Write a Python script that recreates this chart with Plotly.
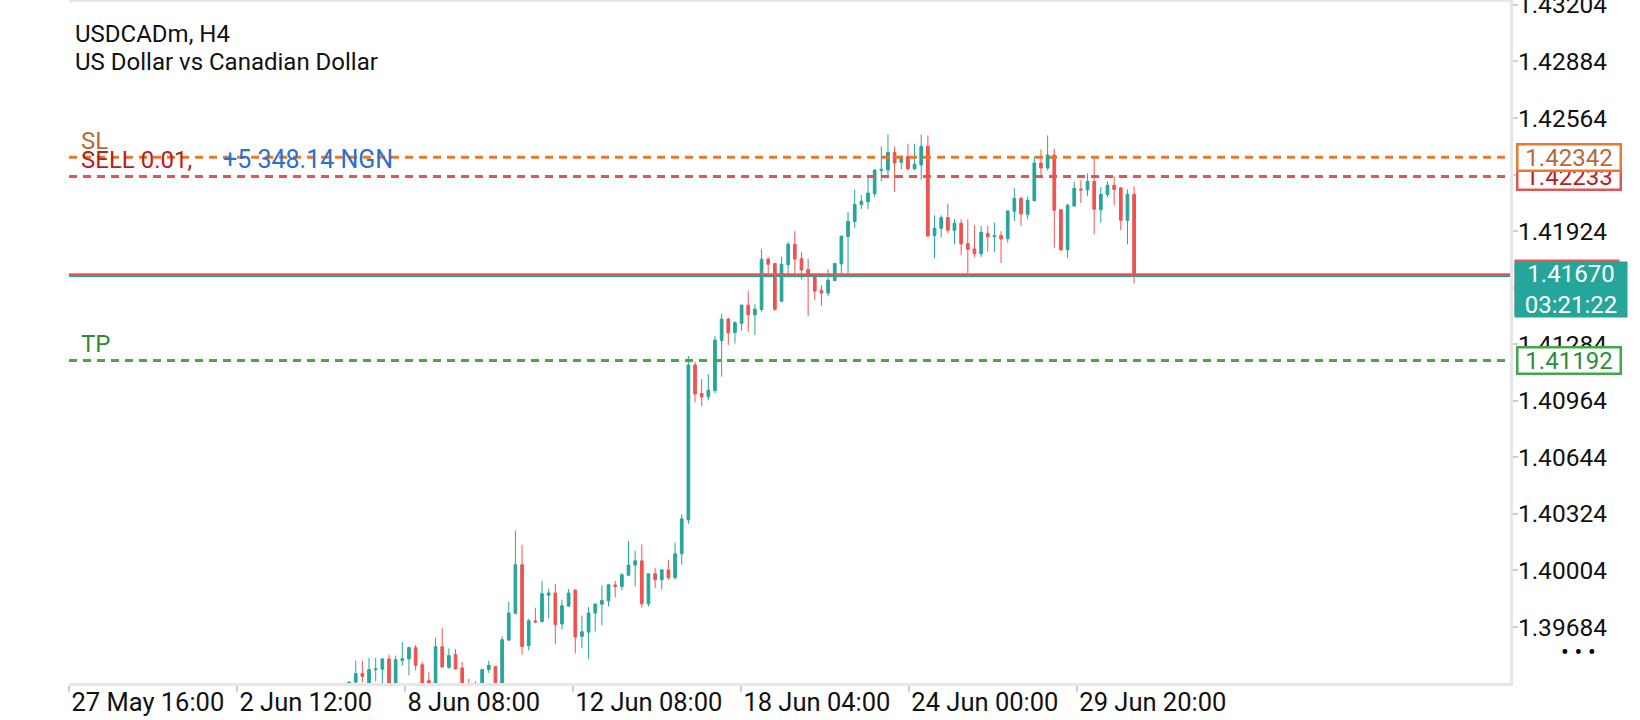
import plotly.graph_objects as go

# chart header
symbol = "USDCADm, H4"
description = "US Dollar vs Canadian Dollar"

# H4 candles, oldest first
opens = [
    1.39330, 1.39372, 1.39420, 1.39360, 1.39443, 1.39445, 1.39503, 1.39350, 1.39495, 1.39503,
    1.39567, 1.39470, 1.39380, 1.39352, 1.39572, 1.39456, 1.39527, 1.39452, 1.39340, 1.39295,
    1.39255, 1.39443, 1.39460, 1.39342, 1.39610, 1.39762, 1.40036, 1.39578, 1.39718, 1.39714,
    1.39864, 1.39876, 1.39701, 1.39802, 1.39893, 1.39631, 1.39655, 1.39763, 1.39813, 1.39832,
    1.39921, 1.39913, 1.39977, 1.40034, 1.40058, 1.39815, 1.39985, 1.39951, 1.40007, 1.39964,
    1.40098, 1.40290, 1.41166, 1.41005, 1.40986, 1.41022, 1.41305, 1.41426, 1.41350, 1.41402,
    1.41505, 1.41450, 1.41480, 1.41765, 1.41740, 1.41527, 1.41733, 1.41849, 1.41768, 1.41706,
    1.41674, 1.41589, 1.41573, 1.41644, 1.41738, 1.41893, 1.41977, 1.42074, 1.42090, 1.42135,
    1.42266, 1.42270, 1.42369, 1.42313, 1.42347, 1.42276, 1.42298, 1.42403, 1.41898, 1.41940,
    1.42000, 1.41929, 1.41968, 1.41853, 1.41823, 1.41795, 1.41910, 1.41892, 1.41898, 1.41880,
    1.42036, 1.42109, 1.42019, 1.42096, 1.42309, 1.42281, 1.42354, 1.42045, 1.41818, 1.42066,
    1.42162, 1.42157, 1.42205, 1.42045, 1.42130, 1.42183, 1.42168, 1.41985, 1.42132,
]
highs = [
    1.39375, 1.39493, 1.39493, 1.39509, 1.39509, 1.39507, 1.39527, 1.39522, 1.39599, 1.39574,
    1.39582, 1.39485, 1.39427, 1.39623, 1.39680, 1.39563, 1.39559, 1.39486, 1.39390, 1.39376,
    1.39445, 1.39493, 1.39462, 1.39631, 1.39827, 1.40228, 1.40149, 1.39731, 1.39793, 1.39945,
    1.39900, 1.39927, 1.39838, 1.39900, 1.39895, 1.39749, 1.39797, 1.39815, 1.39919, 1.39928,
    1.39945, 1.39989, 1.40171, 1.40115, 1.40151, 1.39987, 1.40017, 1.40010, 1.40064, 1.40162,
    1.40322, 1.41217, 1.41185, 1.41086, 1.41115, 1.41330, 1.41456, 1.41435, 1.41414, 1.41508,
    1.41584, 1.41510, 1.41821, 1.41778, 1.41742, 1.41778, 1.41862, 1.41923, 1.41806, 1.41768,
    1.41676, 1.41618, 1.41708, 1.41742, 1.41897, 1.42032, 1.42158, 1.42127, 1.42226, 1.42275,
    1.42403, 1.42471, 1.42403, 1.42352, 1.42418, 1.42418, 1.42471, 1.42465, 1.42013, 1.42013,
    1.42079, 1.41991, 1.41991, 1.41991, 1.41957, 1.41953, 1.41955, 1.41972, 1.41923, 1.42040,
    1.42166, 1.42117, 1.42121, 1.42347, 1.42386, 1.42465, 1.42390, 1.42048, 1.42079, 1.42205,
    1.42211, 1.42249, 1.42349, 1.42174, 1.42205, 1.42234, 1.42174, 1.42160, 1.42177,
]
lows = [
    1.39300, 1.39350, 1.39371, 1.39340, 1.39376, 1.39367, 1.39330, 1.39335, 1.39465, 1.39410,
    1.39437, 1.39340, 1.39335, 1.39340, 1.39452, 1.39447, 1.39443, 1.39310, 1.39260, 1.39230,
    1.39240, 1.39424, 1.39320, 1.39330, 1.39606, 1.39755, 1.39527, 1.39552, 1.39706, 1.39710,
    1.39732, 1.39585, 1.39669, 1.39798, 1.39535, 1.39563, 1.39503, 1.39659, 1.39693, 1.39800,
    1.39851, 1.39891, 1.39974, 1.39913, 1.39794, 1.39800, 1.39904, 1.39895, 1.39951, 1.39951,
    1.40036, 1.40267, 1.40955, 1.40934, 1.40966, 1.41008, 1.41100, 1.41280, 1.41287, 1.41360,
    1.41354, 1.41336, 1.41468, 1.41684, 1.41472, 1.41524, 1.41674, 1.41674, 1.41650, 1.41444,
    1.41533, 1.41501, 1.41555, 1.41642, 1.41685, 1.41684, 1.41941, 1.42049, 1.42048, 1.42115,
    1.42207, 1.42226, 1.42145, 1.42273, 1.42268, 1.42268, 1.42215, 1.41893, 1.41769, 1.41887,
    1.41912, 1.41848, 1.41786, 1.41684, 1.41776, 1.41778, 1.41807, 1.41807, 1.41744, 1.41859,
    1.41981, 1.41953, 1.41991, 1.42092, 1.42229, 1.42268, 1.41829, 1.41812, 1.41772, 1.42062,
    1.42083, 1.42121, 1.41906, 1.41972, 1.42115, 1.42070, 1.41929, 1.41849, 1.41627,
]
closes = [
    1.39372, 1.39420, 1.39405, 1.39443, 1.39447, 1.39503, 1.39350, 1.39499, 1.39504, 1.39567,
    1.39467, 1.39360, 1.39352, 1.39572, 1.39458, 1.39522, 1.39448, 1.39340, 1.39290, 1.39250,
    1.39443, 1.39467, 1.39340, 1.39612, 1.39763, 1.40036, 1.39574, 1.39719, 1.39712, 1.39872,
    1.39876, 1.39697, 1.39804, 1.39876, 1.39627, 1.39657, 1.39763, 1.39814, 1.39834, 1.39923,
    1.39913, 1.39979, 1.40034, 1.40058, 1.39815, 1.39985, 1.39951, 1.40007, 1.39962, 1.40098,
    1.40296, 1.41166, 1.41002, 1.40986, 1.41024, 1.41307, 1.41426, 1.41348, 1.41405, 1.41505,
    1.41450, 1.41482, 1.41765, 1.41736, 1.41482, 1.41736, 1.41849, 1.41766, 1.41704, 1.41670,
    1.41584, 1.41574, 1.41646, 1.41740, 1.41895, 1.41979, 1.42075, 1.42093, 1.42139, 1.42268,
    1.42273, 1.42369, 1.42309, 1.42347, 1.42276, 1.42301, 1.42403, 1.41896, 1.41940, 1.42000,
    1.41929, 1.41968, 1.41851, 1.41821, 1.41795, 1.41917, 1.41892, 1.41898, 1.41879, 1.42038,
    1.42109, 1.42021, 1.42098, 1.42309, 1.42281, 1.42354, 1.42042, 1.41818, 1.42070, 1.42166,
    1.42157, 1.42205, 1.42047, 1.42132, 1.42183, 1.42160, 1.41985, 1.42132, 1.41670,
]

time_labels = ["27 May 16:00", "2 Jun 12:00", "8 Jun 08:00", "12 Jun 08:00",
               "18 Jun 04:00", "24 Jun 00:00", "29 Jun 20:00"]

# trade levels
sl_price = 1.42342
entry_price = 1.42233
tp_price = 1.41192
bid_price = 1.41670
ask_price = 1.41680
countdown = "03:21:22"
order_text = "SELL 0.01,"
profit_text = "+5 348.14 NGN"

BULL = "#26a69a"
BEAR = "#ef5350"
FONT = "Roboto"

bars = list(range(len(opens)))

fig = go.Figure()
fig.add_trace(
    go.Candlestick(
        x=bars,
        open=opens,
        high=highs,
        low=lows,
        close=closes,
        increasing=dict(line=dict(color=BULL, width=1), fillcolor=BULL),
        decreasing=dict(line=dict(color=BEAR, width=1), fillcolor=BEAR),
        whiskerwidth=0,
        showlegend=False,
        hoverinfo="skip",
    )
)

dash = "8px,6px"
fig.add_hline(y=sl_price, line=dict(color="#e8792b", width=3, dash=dash))
fig.add_hline(y=entry_price, line=dict(color="#e05656", width=3, dash=dash))
fig.add_hline(y=tp_price, line=dict(color="#43a84b", width=3, dash=dash))
fig.add_hline(y=ask_price, line=dict(color=BEAR, width=2))
fig.add_hline(y=bid_price, line=dict(color=BULL, width=2))


def note(text, x, xshift, y, yshift, color, yref="paper", xanchor="left", yanchor="middle", size=24):
    fig.add_annotation(
        xref="paper", x=x, xanchor=xanchor, xshift=xshift,
        yref=yref, y=y, yanchor=yanchor, yshift=yshift,
        text=text, showarrow=False,
        font=dict(family=FONT, size=size, color=color),
    )


def price_box(price, text, border, color):
    fig.add_annotation(
        xref="paper", x=1, xanchor="left", xshift=6,
        yref="y", y=price, yanchor="middle",
        text=text, showarrow=False,
        font=dict(family=FONT, size=24, color=color),
        bgcolor="white", bordercolor=border, borderwidth=2.5, borderpad=0,
        width=101, height=24,
    )


# header + level captions
note(symbol, 0, 4, 1, -32, "#111111")
note(description, 0, 4, 1, -60, "#111111")
note("SL", 0, 10, sl_price, 0, "#b36b3a", yref="y", yanchor="bottom")
note(order_text, 0, 10, entry_price, 0, "#b8211b", yref="y", yanchor="bottom")
note(profit_text, 0, 152, entry_price, 0, "#2a6fd1", yref="y", yanchor="bottom", size=25)
note("TP", 0, 10, tp_price, 0, "#2e8b3a", yref="y", yanchor="bottom")

# price tags on the right axis
price_box(entry_price, f"{entry_price:.5f}", "#e05656", "#b8211b")
price_box(sl_price, f"{sl_price:.5f}", "#e8792b", "#b36b3a")
price_box(tp_price, f"{tp_price:.5f}", "#43a84b", "#2e8b3a")

fig.add_annotation(
    xref="paper", x=1, xanchor="left", xshift=4,
    yref="y", y=bid_price, yanchor="top", yshift=16.5,
    text=" ", showarrow=False, bgcolor=BEAR, borderpad=0,
    width=104, height=55,
)
fig.add_annotation(
    xref="paper", x=1, xanchor="left", xshift=4,
    yref="y", y=bid_price, yanchor="top", yshift=14.5,
    text=f"{bid_price:.5f}<br>{countdown}", showarrow=False,
    font=dict(family=FONT, size=24, color="white"),
    bgcolor=BULL, borderpad=0, width=112, height=55,
)

note("\u2022 \u2022 \u2022", 1, 68, 0, 31, "#000000", xanchor="center", size=23)

first_tick = -42.07
tick_step = 25.25
tickvals = [first_tick + tick_step * k for k in range(len(time_labels))]

fig.update_layout(
    width=1640,
    height=720,
    margin=dict(l=69, r=130, t=2, b=37, autoexpand=False),
    paper_bgcolor="white",
    plot_bgcolor="white",
    font=dict(family=FONT, size=24, color="#111111"),
    boxgap=0.42,
    xaxis=dict(
        range=[-42.1, 174.5],
        rangeslider=dict(visible=False),
        tickmode="array",
        tickvals=tickvals,
        ticktext=time_labels,
        ticklabelposition="outside right",
        ticklabelstandoff=-6,
        ticklabeloverflow="allow",
        ticks="outside",
        ticklen=6,
        tickwidth=1.5,
        tickcolor="#d0d0d0",
        tickfont=dict(family=FONT, size=25.5, color="#111111"),
        showline=True,
        mirror=True,
        linecolor="#e6e6e6",
        linewidth=3,
        showgrid=False,
        zeroline=False,
    ),
    yaxis=dict(
        side="right",
        range=[1.39367, 1.43220],
        tick0=1.39684,
        dtick=0.0032,
        tickformat=".5f",
        ticks="outside",
        ticklen=5,
        tickwidth=1.5,
        tickcolor="#d0d0d0",
        ticklabelstandoff=-5,
        ticklabeloverflow="allow",
        tickfont=dict(family=FONT, size=24.5, color="#111111"),
        showline=True,
        linecolor="#e6e6e6",
        linewidth=3,
        showgrid=False,
        zeroline=False,
    ),
)

fig.write_html(
    "out.html",
    config={"displayModeBar": False},
    post_script="document.body.style.margin='0';",
)
